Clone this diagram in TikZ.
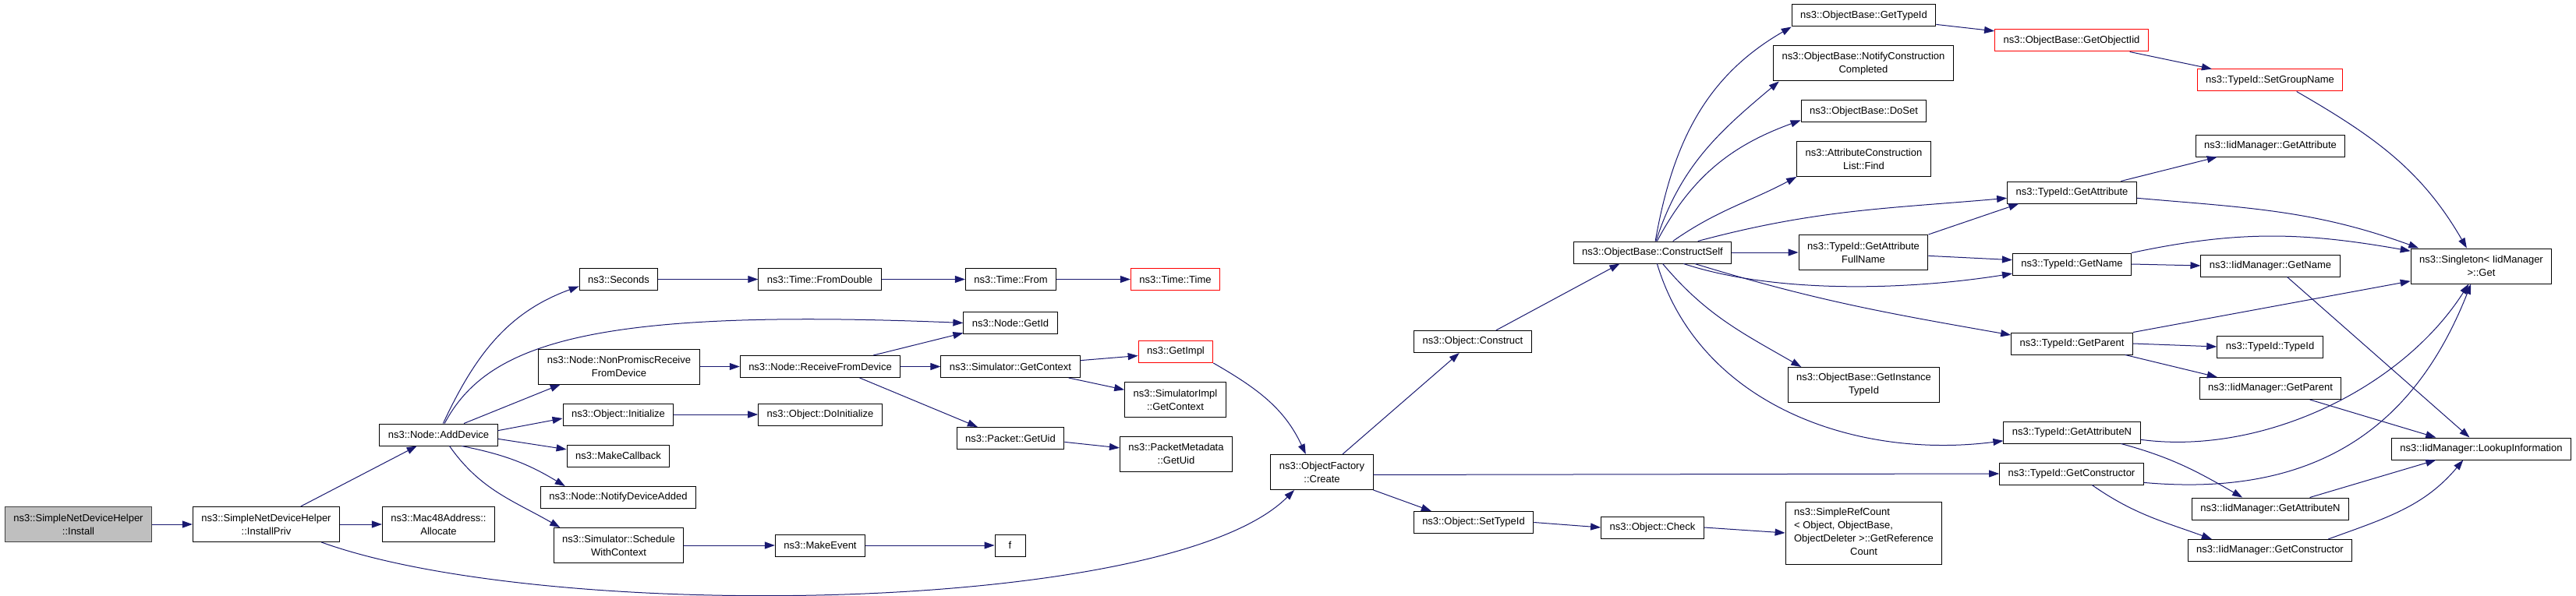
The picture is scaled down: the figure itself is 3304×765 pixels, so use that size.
\documentclass[tikz,border=0pt]{standalone}
\usepackage{fontspec}
\setmainfont{Liberation Sans}
\usetikzlibrary{arrows.meta}
\definecolor{callblue}{HTML}{191970}
\definecolor{rootgray}{HTML}{BFBFBF}
\begin{document}
\begin{tikzpicture}
        [x=1pt, y=1pt,
        fn/.style={rectangle, draw=black, line width=1pt, fill=white, font=\fontsize{13}{17}\selectfont, align=center, inner xsep=11pt, inner ysep=2pt, minimum height=28pt},
        fnTwo/.style={fn, minimum height=45pt},
        fnRed/.style={fn, draw=red},
        fnRoot/.style={fnTwo, fill=rootgray, draw=black!75},
        call/.style={draw=callblue, line width=1pt, -{Triangle[length=13pt, width=9pt]}}]
        \useasboundingbox (0,0) rectangle (3304,-765);

        \node[fnRoot] (install) at (100.5,-673) {ns3::SimpleNetDeviceHelper\\::Install};
        \node[fnTwo] (installPriv) at (341.5,-673) {ns3::SimpleNetDeviceHelper\\::InstallPriv};
        \node[fnTwo] (allocate) at (562.5,-673) {ns3::Mac48Address::\\Allocate};
        \node[fn] (addDevice) at (562.5,-558) {ns3::Node::AddDevice};

        \node[fn] (seconds) at (793.5,-358.5) {ns3::Seconds};
        \node[fnTwo] (nonPromisc) at (794,-470.5) {ns3::Node::NonPromiscReceive\\FromDevice};
        \node[fn] (initialize) at (793,-532) {ns3::Object::Initialize};
        \node[fn] (makeCallback) at (793,-585) {ns3::MakeCallback};
        \node[fn] (notifyAdded) at (793,-638.5) {ns3::Node::NotifyDeviceAdded};
        \node[fnTwo] (schedule) at (793.5,-700) {ns3::Simulator::Schedule\\WithContext};

        \node[fn] (fromDouble) at (1051.5,-358.5) {ns3::Time::FromDouble};
        \node[fn] (receive) at (1052,-470.5) {ns3::Node::ReceiveFromDevice};
        \node[fn] (doInitialize) at (1052,-532) {ns3::Object::DoInitialize};
        \node[fn] (makeEvent) at (1052,-700) {ns3::MakeEvent};

        \node[fn] (timeFrom) at (1296.5,-358.5) {ns3::Time::From};
        \node[fn] (getId) at (1296,-414.5) {ns3::Node::GetId};
        \node[fn] (simContext) at (1296,-470.5) {ns3::Simulator::GetContext};
        \node[fn] (pktUid) at (1296,-562.5) {ns3::Packet::GetUid};
        \node[fn, minimum width=39pt] (fCall) at (1295.5,-700) {f};

        \node[fnRed] (timeTime) at (1507.5,-358.5) {ns3::Time::Time};
        \node[fnRed] (getImpl) at (1508,-451.5) {ns3::GetImpl};
        \node[fnTwo] (implContext) at (1507.5,-513) {ns3::SimulatorImpl\\::GetContext};
        \node[fnTwo] (metaUid) at (1508.5,-582.5) {ns3::PacketMetadata\\::GetUid};

        \node[fnTwo] (create) at (1695.5,-606) {ns3::ObjectFactory\\::Create};
        \node[fn] (construct) at (1889,-438.5) {ns3::Object::Construct};
        \node[fn] (setTypeId) at (1890,-670.5) {ns3::Object::SetTypeId};
        \node[fn] (constructSelf) at (2119.5,-324) {ns3::ObjectBase::ConstructSelf};
        \node[fn] (check) at (2119.5,-677) {ns3::Object::Check};

        \node[fn] (baseTypeId) at (2390.5,-20) {ns3::ObjectBase::GetTypeId};
        \node[fnTwo] (notifyDone) at (2390,-81.5) {ns3::ObjectBase::NotifyConstruction\\Completed};
        \node[fn] (doSet) at (2390.5,-143) {ns3::ObjectBase::DoSet};
        \node[fnTwo] (listFind) at (2390.5,-204) {ns3::AttributeConstruction\\List::Find};
        \node[fnTwo] (fullName) at (2390,-324) {ns3::TypeId::GetAttribute\\FullName};
        \node[fnTwo] (instTypeId) at (2390.5,-494) {ns3::ObjectBase::GetInstance\\TypeId};
        \node[fn, minimum height=80pt] (refCount) at (2390.5,-684) {\begin{tabular}{@{}l@{}}ns3::SimpleRefCount\\< Object, ObjectBase,\\ObjectDeleter >::GetReference\\\multicolumn{1}{@{}c@{}}{Count}\end{tabular}};

        \node[fnRed] (objectIid) at (2657,-52) {ns3::ObjectBase::GetObjectIid};
        \node[fn] (attr) at (2657.5,-247) {ns3::TypeId::GetAttribute};
        \node[fn] (name) at (2657.5,-339) {ns3::TypeId::GetName};
        \node[fn] (parent) at (2657.5,-441) {ns3::TypeId::GetParent};
        \node[fn] (attrN) at (2657.5,-555) {ns3::TypeId::GetAttributeN};
        \node[fn] (ctor) at (2657,-608) {ns3::TypeId::GetConstructor};

        \node[fnRed] (groupName) at (2911.5,-103) {ns3::TypeId::SetGroupName};
        \node[fn] (iidAttr) at (2912,-187) {ns3::IidManager::GetAttribute};
        \node[fn] (iidName) at (2912,-341) {ns3::IidManager::GetName};
        \node[fn] (typeIdCtor) at (2911.5,-445) {ns3::TypeId::TypeId};
        \node[fn] (iidParent) at (2912,-498.5) {ns3::IidManager::GetParent};
        \node[fn] (iidAttrN) at (2912,-653) {ns3::IidManager::GetAttributeN};
        \node[fn] (iidCtor) at (2911.5,-706.5) {ns3::IidManager::GetConstructor};

        \node[fnTwo] (singleton) at (3182.5,-341.5) {ns3::Singleton< IidManager\\ >::Get};
        \node[fn] (lookup) at (3182.5,-576) {ns3::IidManager::LookupInformation};

        % left part
        \draw[call] (install) -- (installPriv);
        \draw[call] (installPriv) -- (addDevice);
        \draw[call] (installPriv) -- (allocate);
        \draw[call] (installPriv.-18) .. controls (700,-800) and (1500,-790) .. (create.-147);
        \draw[call] (addDevice.68) to[out=65, in=200] (seconds.190);
        \draw[call] (addDevice.62) .. controls (625,-440) and (760,-395) .. (getId.west);
        \draw[call] (addDevice.24) -- (nonPromisc.-163);
        \draw[call] (addDevice.4) -- (initialize.184);
        \draw[call] (addDevice.-4) -- (makeCallback.173);
        \draw[call] (addDevice.-26) to[bend left=10] (notifyAdded.168);
        \draw[call] (addDevice.-46) to[out=-55, in=150] (schedule.163);

        \draw[call] (seconds) -- (fromDouble);
        \draw[call] (fromDouble) -- (timeFrom);
        \draw[call] (timeFrom) -- (timeTime);
        \draw[call] (nonPromisc) -- (receive);
        \draw[call] (receive.12) -- (getId.192);
        \draw[call] (receive) -- (simContext);
        \draw[call] (receive.-16) -- (pktUid.161);
        \draw[call] (simContext.5) -- (getImpl.186);
        \draw[call] (simContext.-11) -- (implContext.169);
        \draw[call] (getImpl.south east) to[out=-30, in=115] (create.132);
        \draw[call] (pktUid.-4) -- (metaUid.174);
        \draw[call] (initialize) -- (doInitialize);
        \draw[call] (schedule) -- (makeEvent);
        \draw[call] (makeEvent) -- (fCall);

        % middle part
        \draw[call] (create.41) -- (construct.220);
        \draw[call] (create.-3) -- (ctor.west);
        \draw[call] (create.south east) -- (setTypeId.165);
        \draw[call] (construct.26) -- (constructSelf.199);
        \draw[call] (setTypeId.east) -- (check.west);
        \draw[call] (check.east) -- (refCount.west);

        \draw[call] (constructSelf.76) to[out=80, in=210] (baseTypeId.south west);
        \draw[call] (constructSelf.73) to[out=72, in=220] (notifyDone.192);
        \draw[call] (constructSelf.68) to[out=62, in=200] (doSet.188);
        \draw[call] (constructSelf.29) to[out=35, in=208] (listFind.south west);
        \draw[call] (constructSelf.14) to[out=15, in=185] (attr.185);
        \draw[call] (constructSelf) -- (fullName);
        \draw[call] (constructSelf.-20) .. controls (2280,-378) and (2450,-372) .. (name.189);
        \draw[call] (constructSelf.-15) to[out=-17, in=170] (parent.172);
        \draw[call] (constructSelf.-48) to[out=-50, in=150] (instTypeId.164);
        \draw[call] (constructSelf.-68) .. controls (2180,-520) and (2380,-590) .. (attrN.187);

        % right part
        \draw[call] (baseTypeId.-7) -- (objectIid.173);
        \draw[call] (objectIid.-11) -- (groupName.169);
        \draw[call] (groupName.-23) to[out=-30, in=120] (singleton.129);
        \draw[call] (fullName.north east) -- (attr.192);
        \draw[call] (fullName.-3) -- (name.176);
        \draw[call] (attr.13) -- (iidAttr.192);
        \draw[call] (attr.-5) to[out=-5, in=160] (singleton.164);
        \draw[call] (name.north east) to[out=12, in=170] (singleton.168);
        \draw[call] (name.east) -- (iidName.west);
        \draw[call] (iidName.-34) -- (lookup.136);
        \draw[call] (parent.north east) -- (singleton.192);
        \draw[call] (parent.east) -- (typeIdCtor.west);
        \draw[call] (parent.-12) -- (iidParent.168);
        \draw[call] (iidParent.-16) -- (lookup.166);
        \draw[call] (attrN.-6) .. controls (2900,-585) and (3080,-500) .. (singleton.235);
        \draw[call] (attrN.-13) to[out=-15, in=150] (iidAttrN.158);
        \draw[call] (ctor.-7) .. controls (2980,-640) and (3100,-540) .. (singleton.240);
        \draw[call] (ctor.-29) to[out=-35, in=160] (iidCtor.169);
        \draw[call] (iidAttrN.16) -- (lookup.194);
        \draw[call] (iidCtor.11) to[out=20, in=230] (lookup.212);

\end{tikzpicture}
\end{document}
